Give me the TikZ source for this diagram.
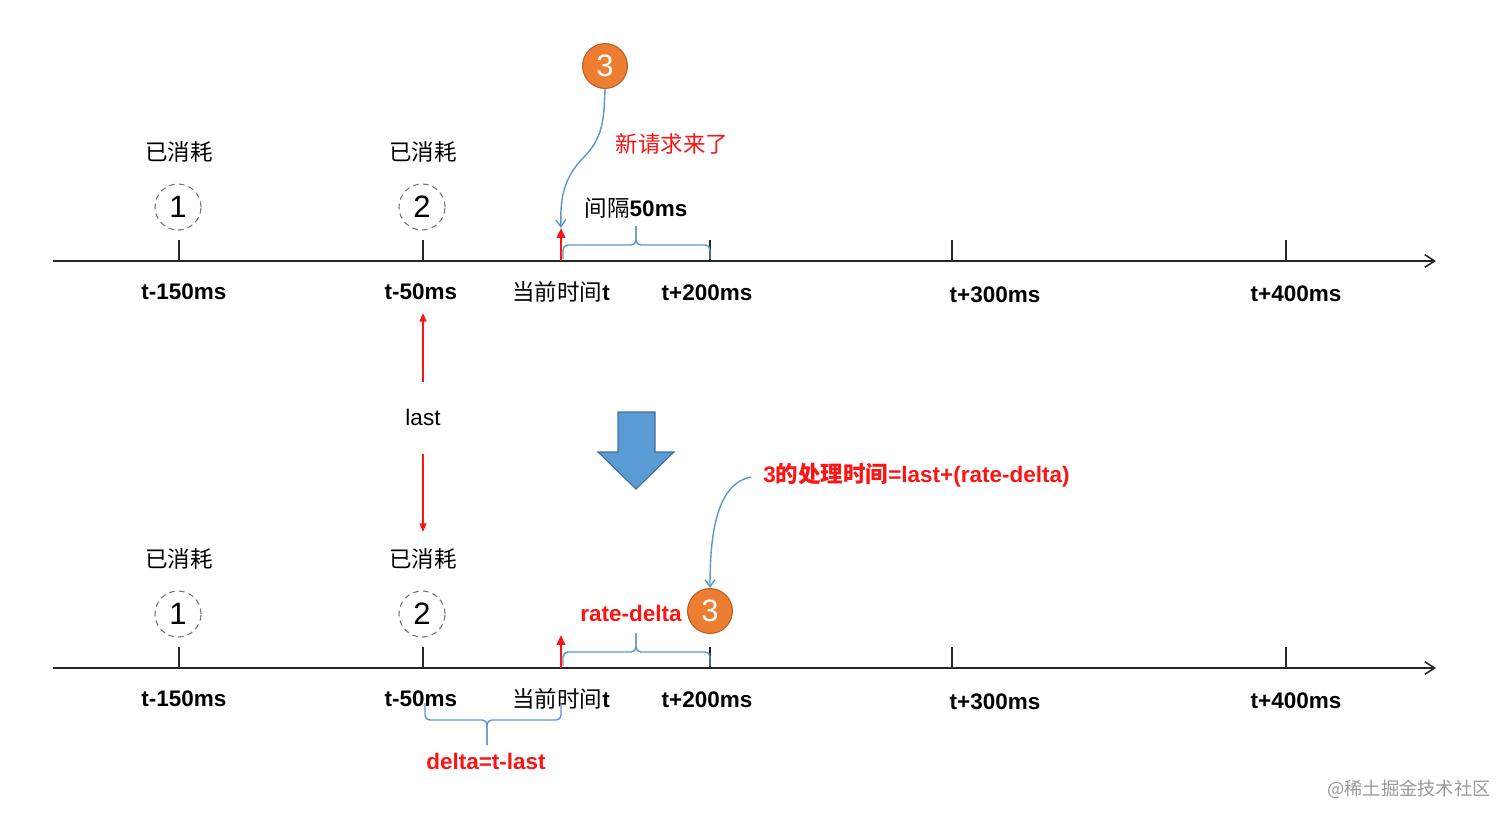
\documentclass[tikz,border=0pt]{standalone}
\usepackage{fontspec}
\setmainfont{Liberation Sans}
\newfontfamily\cjk{Noto Sans CJK SC}
\usetikzlibrary{arrows.meta,positioning}
\definecolor{markred}{RGB}{250,20,20}
\definecolor{bracketblue}{RGB}{90,150,210}
\definecolor{reqorange}{RGB}{237,125,49}
\definecolor{reqedge}{RGB}{190,95,35}
\definecolor{usedgray}{RGB}{120,120,120}
\definecolor{blockblue}{RGB}{91,155,213}
\definecolor{blockedge}{RGB}{65,113,156}
\tikzset{
    axisline/.style={line width=1.1pt, draw=black!85, -{Straight Barb[length=7pt,width=9pt]}},
    tickline/.style={line width=0.9pt, draw=black!85},
    ticklabel/.style={font=\fontsize{16}{18}\selectfont\bfseries, inner sep=0pt},
    usedlabel/.style={font=\cjk\fontsize{16}{18}\selectfont, inner sep=0pt},
    usedcircle/.style={circle, draw=usedgray, dashed, dash pattern=on 4pt off 3pt, line width=0.8pt,
        minimum size=1.15cm, inner sep=0pt, font=\fontsize{22}{24}\selectfont},
    reqcircle/.style={circle, fill=reqorange, draw=reqedge, line width=0.8pt, text=white,
        minimum size=1.12cm, inner sep=0pt, font=\fontsize{22}{24}\selectfont},
    nowarrow/.style={line width=1.4pt, draw=markred, -{Triangle[length=7pt,width=6pt]}},
    lastarrow/.style={line width=1pt, draw=markred, -{Triangle[length=6pt,width=5pt]}},
    bracket/.style={line width=1pt, draw=bracketblue, rounded corners=0.12cm},
    pointer/.style={line width=1pt, draw=bracketblue, -{Straight Barb[length=5pt,width=7pt]}},
    redlabel/.style={text=markred, inner sep=0pt, font=\fontsize{16}{18}\selectfont\bfseries},
    blockarrow/.style={fill=blockblue, draw=blockedge, line width=0.8pt},
}

\begin{document}
\begin{tikzpicture}[x=0.025cm, y=-0.025cm]
    \useasboundingbox (0,0) rectangle (1512,822);

    % Both timelines (top row at y=261, bottom row shifted by 407)
    \foreach \row/\dy in {top/0, bot/407} {
        \coordinate (\row start) at (53,261+\dy);
        \coordinate (\row end) at (1436,261+\dy);
        \draw[axisline] (\row start) -- (\row end);

        % ticks
        \foreach \x/\n in {179/a, 423/b, 710/c, 952/d, 1286/e} {
            \coordinate (\row tick\n) at (\x,261+\dy);
            \draw[tickline] (\row tick\n) -- ++(0,-21);
        }

        % tick labels
        \node[ticklabel] (\row lbla) at (184,292+\dy) {t-150ms};
        \node[ticklabel] (\row lblb) at (421,292+\dy) {t-50ms};
        \node[ticklabel, font=\fontsize{16}{18}\selectfont] (\row now) at (561,292+\dy) {{\cjk 当前时间}\textbf{t}};
        \node[ticklabel] (\row lblc) at (707,293+\dy) {t+200ms};
        \node[ticklabel] (\row lbld) at (995,295+\dy) {t+300ms};
        \node[ticklabel] (\row lble) at (1296,294+\dy) {t+400ms};

        % consumed requests
        \node[usedcircle] (\row one) at (178,207+\dy) {1};
        \node[usedcircle] (\row two) at (422,207+\dy) {2};
        \node[usedlabel] (\row usedone) at (179,152+\dy) {已消耗};
        \node[usedlabel] (\row usedtwo) at (423,152+\dy) {已消耗};

        % current time marker
        \coordinate (\row nowbase) at (561,261+\dy);
        \coordinate (\row nowtip) at (561,228+\dy);
        \draw[nowarrow] (\row nowbase) -- (\row nowtip);

        % bracket between now and t+200ms
        \draw[bracket] (563,259+\dy) -- (563,245+\dy) -- (636,245+\dy) -- (636,226+\dy);
        \draw[bracket] (636,226+\dy) -- (636,245+\dy) -- (710,245+\dy) -- (710,259+\dy);
    }

    % Top row: new request arrives
    \node[reqcircle] (newreq) at (605,66) {3};
    \node[redlabel, font=\cjk\fontsize{16}{18}\selectfont] (newlabel) at (672,144) {新请求来了};
    \node[ticklabel, font=\fontsize{16}{18}\selectfont] (gaplabel) at (636,208) {{\cjk 间隔}\textbf{50ms}};
    \draw[pointer] (newreq.south) to[out=-92,in=45] (584,157) to[out=-135,in=92] (topnowtip);

    % last marker between the rows
    \node[font=\fontsize{16}{18}\selectfont, inner sep=0pt] (lastlabel) at (423,417) {last};
    \draw[lastarrow, shorten <=0.65cm, shorten >=0.53cm] (lastlabel) -- (lastlabel |- toplblb);
    \draw[lastarrow, shorten <=0.7cm, shorten >=0.68cm] (lastlabel) -- (lastlabel |- botusedtwo);

    % Transition arrow
    \draw[blockarrow] (618,412) -- (655,412) -- (655,452) -- (674,452) -- (636,489)
        -- (598,452) -- (618,452) -- cycle;

    % Bottom row: scheduled processing time
    \node[reqcircle] (procreq) at (710,611) {3};
    \node[redlabel] (ratelabel) at (631,613) {rate-delta};
    \node[redlabel, anchor=west] (formula) at (763,475) {3{\cjk 的处理时间}=last+(rate-delta)};
    \draw[pointer, shorten <=0.3cm] (formula.west) to[out=190,in=90] (procreq.north);

    % delta bracket under the bottom axis
    \draw[bracket] (425,703) -- (425,720) -- (487,720) -- (487,745);
    \draw[bracket] (487,745) -- (487,720) -- (561,720) -- (561,703);
    \node[redlabel] (deltalabel) at (486,761) {delta=t-last};

    % watermark
    \node[text=black!40, inner sep=0pt, font=\cjk\fontsize{13}{15}\selectfont] (mark) at (1409,789) {@稀土掘金技术社区};
\end{tikzpicture}
\end{document}
